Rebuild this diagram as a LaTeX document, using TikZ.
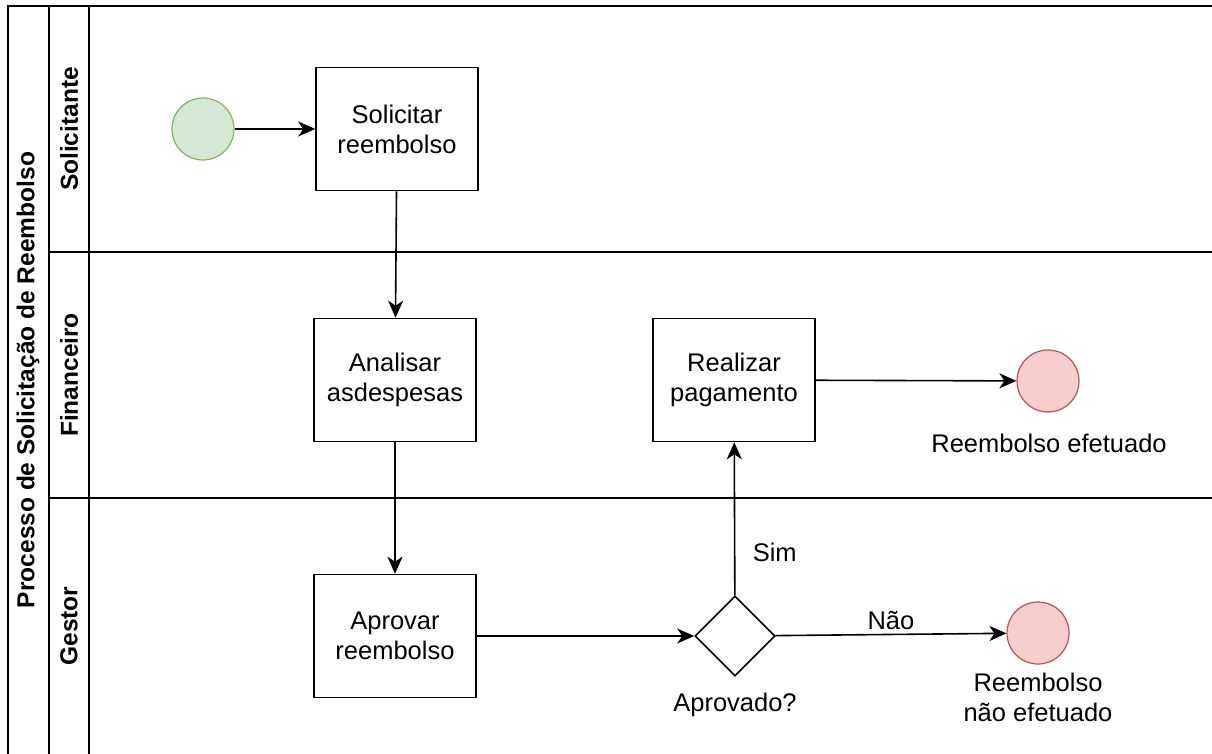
\documentclass[tikz,border=0pt]{standalone}
\usepackage{fontspec}
\setmainfont{Liberation Sans}
\usetikzlibrary{shapes.geometric,arrows.meta,positioning}

\definecolor{startfill}{RGB}{213,232,212}
\definecolor{startline}{RGB}{130,179,102}
\definecolor{endfill}{RGB}{248,206,204}
\definecolor{endline}{RGB}{184,84,80}

\begin{document}
\begin{tikzpicture}[x=1pt,y=-1pt,>={Stealth[length=17pt,width=15pt,inset=5pt]},line width=1.6pt,
    font=\fontsize{25.5}{30}\selectfont,
    task node/.style={rectangle,draw,minimum width=162pt,minimum height=123pt,align=center,inner sep=2pt},
    start node/.style={circle,draw=startline,fill=startfill,line width=1.2pt,minimum size=62pt,inner sep=0pt},
    end node/.style={circle,draw=endline,fill=endfill,line width=1.2pt,minimum size=62pt,inner sep=0pt},
    gate node/.style={diamond,draw,minimum width=80pt,minimum height=80pt,inner sep=0pt},
    lane label/.style={rotate=90,font=\fontsize{24.5}{30}\selectfont\bfseries}]
    \useasboundingbox (0,0) rectangle (1212,754);

    % pool e raias
    \draw (1212,6) -- (8,6) -- (8,754);
    \draw (49,6) -- (49,754);
    \draw (89,6) -- (89,754);
    \draw (49,252) -- (1212,252);
    \draw (49,498) -- (1212,498);

    \node[lane label] (pool) at (28,380) {Processo de Solicitação de Reembolso};
    \node[lane label] (solicitante) at (69,129) {Solicitante};
    \node[lane label] (financeiro) at (69,375) {Financeiro};
    \node[lane label] (gestor) at (69,626) {Gestor};

    % elementos
    \node[start node] (inicio) at (203,129) {};
    \node[task node] (solicitar) at (397,129) {Solicitar\\reembolso};
    \node[task node] (analisar) at (395,380) {Analisar\\asdespesas};
    \node[task node] (aprovar) at (395,636) {Aprovar\\reembolso};
    \node[gate node] (aprovado) at (735,636) {};
    \node[task node] (pagar) at (734,380) {Realizar\\pagamento};
    \node[end node] (efetuado) at (1048,381) {};
    \node[end node] (naoefetuado) at (1038,633) {};

    \node (aprovadotxt) at (735,705) {Aprovado?};
    \node (efetuadotxt) at (1049,443) {Reembolso efetuado};
    \node[align=center] (naoefetuadotxt) at (1038,697) {Reembolso\\não efetuado};

    \path[->]
        (inicio) edge (solicitar)
        (solicitar) edge (analisar)
        (analisar) edge (aprovar)
        (aprovar) edge (aprovado)
        (aprovado) edge node[pos=0.28,right=14pt] {Sim} (pagar)
        (aprovado) edge node[above=1pt] {Não} (naoefetuado)
        (pagar) edge (efetuado)
    ;
\end{tikzpicture}
\end{document}
